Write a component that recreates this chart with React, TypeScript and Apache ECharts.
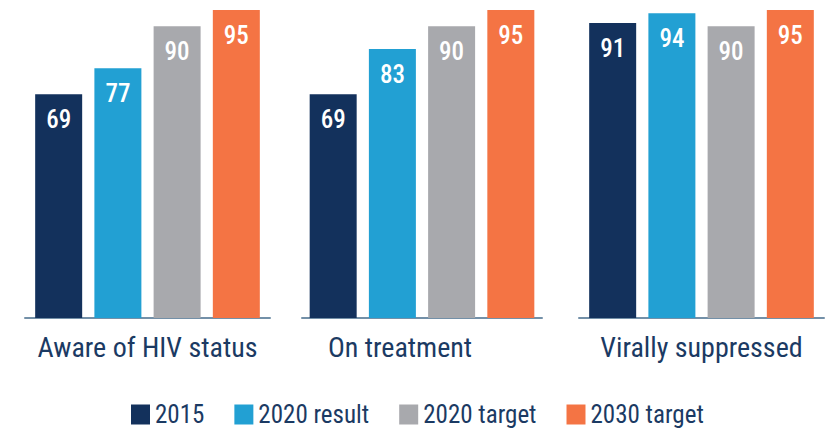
import React, { useEffect, useRef } from "react";
import * as echarts from "echarts";

const categories = ["Aware of HIV status", "On treatment", "Virally suppressed"];
const seriesNames = ["2015", "2020 result", "2020 target", "2030 target"];
const values2015 = [69, 69, 91];
const values2020Result = [77, 83, 94];
const values2020Target = [90, 90, 90];
const values2030Target = [95, 95, 95];
const seriesValues = [values2015, values2020Result, values2020Target, values2030Target];
const colors = ["#13315c", "#22a0d3", "#a8a9ad", "#f47444"];

const FONT = "'Roboto Condensed', 'DejaVu Sans Condensed', 'Liberation Sans Narrow', Roboto, sans-serif";
const TEXT = "#1b3a63";

export default function App() {
  const ref = useRef<HTMLDivElement>(null);
  useEffect(() => {
    if (!ref.current) return;
    const chart = echarts.init(ref.current, undefined, { renderer: "svg" });
    const grids = [
      { left: 25, width: 245, top: 10, bottom: 111 },
      { left: 302, width: 240, top: 10, bottom: 111 },
      { left: 579, width: 245, top: 10, bottom: 111 },
    ];
    const labelPad = [
      [0, 0, 0, 0],
      [0, 44, 0, 0],
      [0, 0, 0, 0],
    ];
    const xAxis = categories.map((c, i) => ({
      type: "category",
      gridIndex: i,
      data: [c],
      axisLine: { show: true, lineStyle: { color: "#7390a8", width: 2 } },
      axisTick: { show: false },
      axisLabel: {
        color: TEXT,
        fontFamily: FONT,
        fontSize: 28,
        margin: 15,
        padding: labelPad[i],
      },
    }));
    const yAxis = categories.map((_, i) => ({
      type: "value",
      gridIndex: i,
      min: 0,
      max: 95,
      show: false,
      splitLine: { show: false },
    }));
    const series: any[] = [];
    categories.forEach((_, g) => {
      seriesNames.forEach((name, s) => {
        series.push({
          type: "bar",
          name,
          xAxisIndex: g,
          yAxisIndex: g,
          data: [seriesValues[s][g]],
          barWidth: 47,
          barGap: "26%",
          itemStyle: { color: colors[s] },
          label: {
            show: true,
            position: "insideTop",
            distance: 13,
            color: "#ffffff",
            fontFamily: FONT,
            fontSize: 25,
            fontWeight: 500,
          },
        });
      });
    });
    chart.setOption({
      animation: false,
      color: colors,
      grid: grids,
      xAxis,
      yAxis,
      series,
      legend: {
        data: seriesNames,
        left: 131,
        top: 402,
        padding: 0,
        icon: "rect",
        itemWidth: 19,
        itemHeight: 20,
        itemGap: 30,
        textStyle: { color: TEXT, fontFamily: FONT, fontSize: 25, lineHeight: 24 },
        selectedMode: false,
      },
    });
    return () => chart.dispose();
  }, []);
  return (
    <div
      ref={ref}
      style={{ position: "fixed", left: 0, top: 0, width: 826, height: 429, background: "#fff" }}
    />
  );
}
